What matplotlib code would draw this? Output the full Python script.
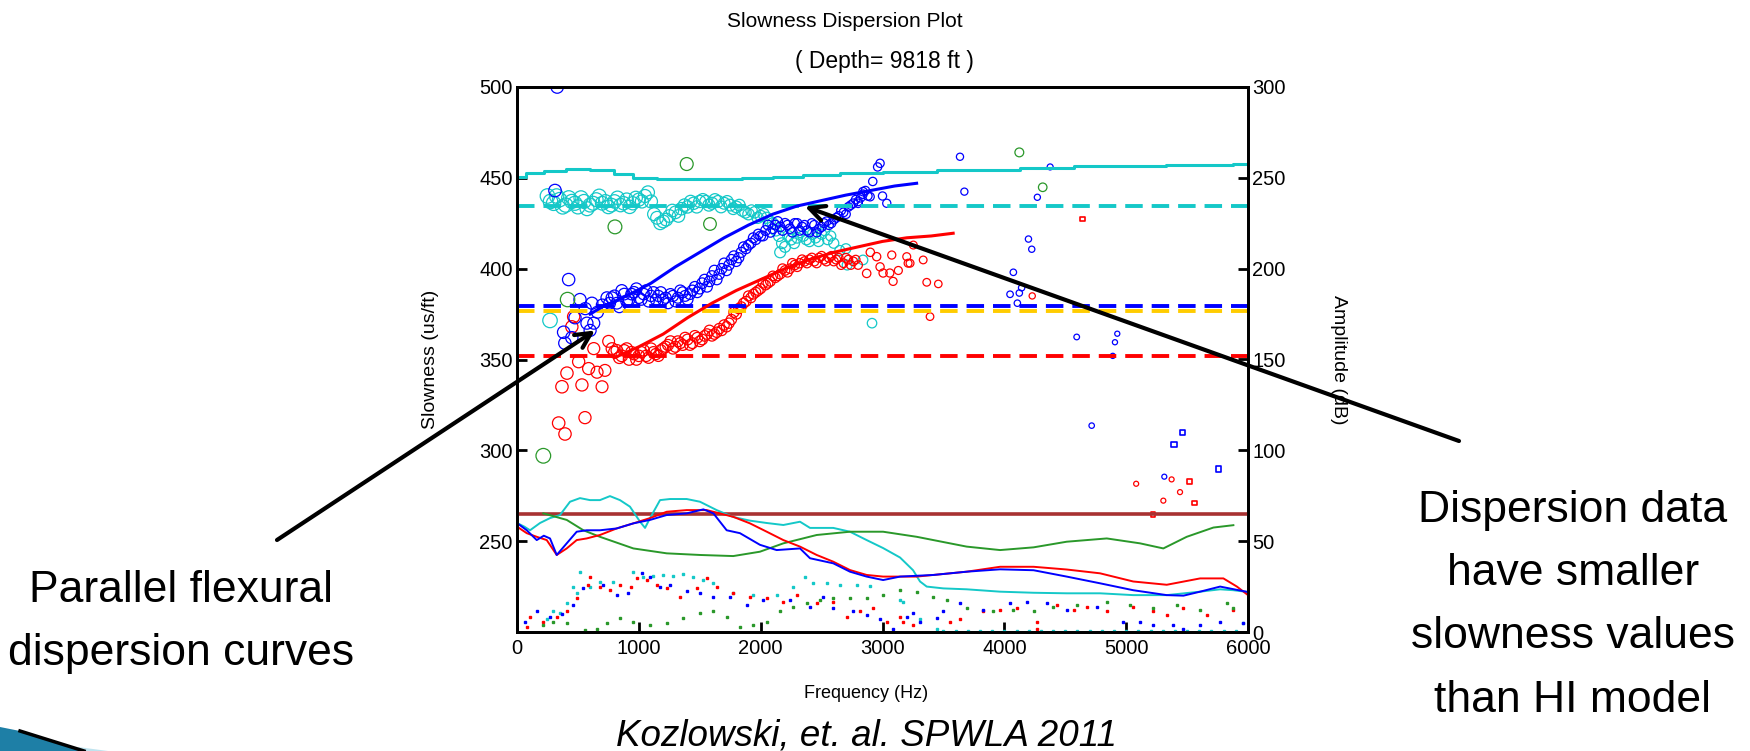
import matplotlib
matplotlib.use('Agg')
import matplotlib.pyplot as plt
from matplotlib import font_manager
from matplotlib.patches import Polygon
import numpy as np

plt.rcParams['font.family'] = ['Liberation Sans', 'DejaVu Sans']

W, H = 1750, 751

# ---- slowness axis (left, us/ft) ----
# formation / HI model reference lines
cyan_line_f = [0, 150, 300, 500, 700, 900, 1000, 1300, 1700, 2000, 2200, 2500, 2800,
               3200, 3700, 4000, 4250, 4900, 5750, 6000]
cyan_line_s = [450.5, 452.5, 454, 455, 454.5, 452, 450, 449.5, 449.5, 450, 450.5, 451.5,
               452.5, 453.3, 454.3, 454.5, 455.5, 456.3, 457.3, 457.5]
cyan_dash = 434.6
blue_dash = 379.4
gold_dash = 376.5
red_dash = 352.1

blue_model_f = [600, 700, 900, 1100, 1300, 1500, 1700, 1900, 2100, 2300, 2500, 2700, 2900, 3100, 3280]
blue_model_s = [375, 379, 385, 392, 401, 409, 417, 424, 430, 434.5, 437.5, 440.5, 443, 445.5, 447]
red_model_f = [800, 1000, 1200, 1400, 1600, 1800, 2000, 2200, 2400, 2600, 2800, 3000, 3200, 3400, 3580]
red_model_s = [351, 357, 364, 373, 381, 388, 394, 400, 405, 409, 412, 415, 417, 418, 419.5]

# dispersion data (circles)
blue_f = [312, 330, 383, 393, 424, 450, 476, 517, 560, 574, 600, 615, 630, 660, 700, 738,
          760, 800, 840, 880, 920, 960, 1000, 1040, 1080, 1120, 1160, 1200, 1240, 1280, 1320,
          1360, 1400, 1440, 1480, 1520, 1560, 1600, 1640, 1680, 1720, 1760, 1800, 1840, 1880,
          1920, 1960, 2000, 2040, 2080, 2120, 2160, 2200, 2240, 2280, 2320, 2360, 2400, 2440,
          2480, 2520, 2560, 2600, 2640, 2680, 2720, 2760, 2800, 2840, 2880, 2920, 2960, 2980,
          3000, 3035, 2898, 2840, 2800,
          3636, 3672, 4047, 4074, 4107, 4123, 4142, 4198, 4225, 4271, 4376, 4594, 4717, 4890,
          4908, 4927, 5313]
blue_s = [443, 500, 365, 359, 394, 362, 373, 383, 378, 370, 366, 381, 370, 376, 380, 384,
          381, 385, 379, 386, 383, 387, 384, 386, 382, 387, 385, 383, 381, 385, 384,
          387, 383, 388, 387, 392, 390, 396, 394, 400, 399, 405, 404, 409, 411,
          414, 416, 418, 421, 420, 424, 423, 425, 422, 425, 421, 424, 420, 424,
          422, 425, 424, 427, 429, 431, 434, 436, 437, 441, 440, 448, 456, 458,
          440, 436, 439.6, 442.4, 436,
          461.6, 442.4, 385.9, 398, 381, 386.6, 389.5, 416.3, 410.7, 439.3, 456, 362.4, 313.6,
          352, 359.5, 364.2, 285.5]
# second row of the blue band (offset frequencies)
blue_f2 = [780, 820, 860, 900, 940, 980, 1020, 1060, 1100, 1140, 1180, 1220, 1260, 1300, 1340,
           1380, 1420, 1460, 1500, 1540, 1580, 1620, 1660, 1700, 1740, 1780, 1820, 1860, 1900,
           1940, 1980, 2020, 2060, 2100, 2140, 2180, 2220, 2260, 2300, 2340, 2380, 2420, 2460,
           2500, 2540, 2580, 2620, 2660, 2700, 2740, 2780, 2820, 2860]
blue_s2 = [384, 381, 388, 382, 386, 389, 383, 388, 385, 383, 387, 384, 386, 382, 388,
           385, 386, 390, 389, 394, 393, 399, 397, 403, 402, 407, 406, 412, 413,
           417, 419, 418, 424, 422, 426, 421, 424, 420, 425, 423, 421, 425, 420,
           423, 426, 425, 428, 432, 430, 435, 438, 439, 443]
blue_sq_f = [5393, 5464, 5760]
blue_sq_s = [303, 310, 289.7]

red_f = [342, 369, 394, 410, 450, 465, 506, 533, 558, 588, 630, 657, 698, 722, 752, 780,
         800, 840, 880, 920, 960, 1000, 1040, 1080, 1120, 1160, 1200, 1240, 1280, 1320, 1360,
         1400, 1440, 1480, 1520, 1560, 1600, 1640, 1680, 1720, 1760, 1800, 1840, 1880, 1920,
         1960, 2000, 2040, 2080, 2120, 2160, 2200, 2240, 2280, 2320, 2360, 2400, 2440, 2480,
         2520, 2560, 2600, 2640, 2680, 2720, 2760, 2800,
         2870, 2900, 2952, 2980, 3005, 3060, 3076, 3087, 3130, 3199, 3210, 3226, 3253, 3334,
         3363, 3390, 3458, 4229, 5082, 5305, 5373, 5442]
red_s = [315, 335, 309, 342.5, 368, 373.6, 348.8, 336, 318, 345, 356, 343, 335, 344, 360, 356,
         354, 351, 355, 350, 353, 352, 355, 351, 354, 352, 356, 358, 356, 360, 358,
         361, 359, 362, 361, 364, 363, 365, 366, 368, 372, 375, 379, 382, 384,
         387, 389, 391, 393, 395, 397, 399, 400, 402, 403, 404, 405, 404, 406,
         405, 406, 404, 406, 403, 405, 404, 402,
         397.4, 409, 406.6, 401, 397.6, 397.6, 407.5, 393, 399, 406.6, 403, 403, 413, 404.8,
         392.5, 373.6, 391.6, 385, 281.6, 272.3, 284, 277]
red_f2 = [820, 860, 900, 940, 980, 1020, 1060, 1100, 1140, 1180, 1220, 1260, 1300, 1340, 1380,
          1420, 1460, 1500, 1540, 1580, 1620, 1660, 1700, 1740, 1780, 1820, 1860, 1900, 1940,
          1980, 2020, 2060, 2100, 2140, 2180, 2220, 2260, 2300, 2340, 2380, 2420, 2460, 2500,
          2540, 2580, 2620, 2660, 2700, 2740, 2780]
red_s2 = [355, 352, 356, 354, 350, 354, 352, 356, 353, 355, 357, 360, 357, 359, 362,
          358, 363, 360, 363, 366, 364, 367, 369, 370, 376, 378, 381, 385, 386,
          388, 392, 392, 396, 396, 400, 398, 403, 401, 405, 403, 406, 403, 407,
          404, 407, 405, 402, 406, 402, 405]
red_sq_f = [4643, 5518, 5563, 5220]
red_sq_s = [427.3, 283, 271, 264.6]

cyan_f = [250, 271, 300, 350, 400, 450, 500, 550, 600, 650, 700, 750, 800, 850, 900, 950,
          1000, 1050, 1100, 1150, 1200, 1250, 1300, 1350, 1400, 1450, 1500, 1550, 1600, 1650,
          1700, 1750, 1800, 1850, 1900, 1950, 2000, 2050, 2100, 2150, 2160, 2200, 2250, 2300,
          2350, 2400, 2450, 2500, 2550, 2600, 2650, 2700, 2710, 2840, 2914]
cyan_s = [440, 371.5, 436, 438, 435, 437, 434, 437, 435, 438, 436, 434, 437, 435, 438, 436,
          438, 440, 437, 428, 426, 429, 431, 433, 434, 436, 437, 437, 436, 437,
          436, 435, 434, 432, 430, 431, 429, 428, 425, 418, 409, 412, 416, 417,
          418, 415, 417, 419, 416, 414, 410, 411, 402, 404.8, 370]
cyan_f2 = [275, 325, 375, 425, 475, 525, 575, 625, 675, 725, 775, 825, 875, 925, 975, 1025,
           1075, 1125, 1175, 1225, 1275, 1325, 1375, 1425, 1475, 1525, 1575, 1625, 1675, 1725,
           1775, 1825, 1875, 1925, 1975, 2025, 2075, 2125, 2175, 2225, 2275, 2325, 2375, 2425,
           2475, 2525, 2575]
cyan_s2 = [437, 440, 434, 439, 436, 439, 433, 436, 440, 437, 435, 439, 436, 434, 439, 437,
           442, 430, 425, 427, 432, 429, 435, 437, 434, 438, 435, 438, 434, 437,
           433, 435, 431, 432, 428, 430, 426, 421, 414, 418, 414, 420, 416, 419,
           415, 421, 418]

green_f = [216, 415, 804, 1393, 1584, 4123, 4315]
green_s = [297, 383, 423, 457.6, 424.6, 464, 444.8]

# ---- amplitude axis (right, dB) ----
hline_amp = 65

cyan_amp_f = [0, 60, 107, 189, 271, 353, 435, 517, 599, 681, 763, 845, 927, 1010, 1051, 1092,
              1174, 1256, 1393, 1502, 1639, 1775, 1912, 2050, 2186, 2323, 2405, 2596, 2733,
              2870, 3005, 3144, 3251, 3308, 3363, 3500, 3691, 3965, 4240, 4512, 4786, 5058,
              5333, 5607, 5771, 5880, 6000]
cyan_amp = [60, 58, 56, 60, 62.7, 64.4, 71.7, 73.7, 72.6, 72.6, 74.8, 72.6, 69, 60.7, 57.3, 62.7,
            72.6, 73.2, 73.2, 71.7, 67.1, 63.3, 61.3, 60, 58.9, 60.7, 57.3, 57.3, 55.2,
            50.6, 46.2, 41, 34, 27.8, 25, 24, 23.5, 22.2, 21.6, 21.3, 21.3, 20.3,
            20.3, 22.2, 23.5, 23, 22]

red_amp_f = [0, 80, 162, 244, 326, 408, 490, 572, 681, 818, 955, 1092, 1229, 1393, 1557, 1775,
             1912, 2050, 2186, 2323, 2460, 2596, 2733, 2870, 3005, 3281, 3418, 3691, 3965,
             4240, 4512, 4786, 5058, 5333, 5607, 5798, 5909, 6000]
red_amp = [58, 54.4, 52.4, 50.6, 42.4, 46, 50.6, 51.5, 53.4, 57, 59.8, 62.7, 66.2, 67.1, 67.1, 63.4,
           59.8, 55.2, 50.6, 47, 42.4, 38.7, 34.1, 31.4, 30.5, 30.5, 31.4, 33.2, 35.9,
           35.9, 34.4, 32.3, 27.8, 26, 29.5, 29.5, 25, 20.3]

blue_amp_f = [0, 80, 162, 220, 271, 326, 408, 490, 572, 681, 818, 955, 1092, 1229, 1393, 1530,
              1612, 1721, 1830, 1994, 2131, 2323, 2405, 2596, 2733, 2870, 3005, 3144, 3418,
              3691, 3965, 4240, 4512, 4786, 5058, 5333, 5470, 5607, 5771, 6000]
blue_amp = [60, 56, 50.6, 53, 51.5, 42.4, 48.8, 55.2, 56, 56, 57, 59.8, 61.7, 64.4, 65.3, 67.5,
            65.3, 56, 54.4, 48, 45.1, 46, 40.6, 37.8, 33.2, 30.5, 28.6, 30.5, 31.4,
            33.2, 34.5, 34, 30.5, 26.8, 23, 20.3, 20, 22.2, 25, 22]

green_amp_f = [216, 408, 545, 681, 955, 1229, 1502, 1775, 1994, 2186, 2460, 2733, 3005, 3281,
               3554, 3691, 3965, 4240, 4512, 4841, 5114, 5305, 5497, 5716, 5880]
green_amp = [65.3, 61.7, 56, 52.4, 46, 43.3, 42.4, 41.8, 44.2, 48.8, 53.4, 55.2, 55.2, 52.4,
             48.8, 47, 45.1, 46.6, 49.7, 51.5, 48.8, 46, 52.4, 57.5, 58.8]

# dotted amplitude points
cyan_dot_f = [244, 298, 353, 408, 462, 490, 517, 599, 681, 790, 955, 1037, 1120, 1202, 1284,
              1366, 1448, 1530, 1612, 1775, 1940, 2131, 2268, 2364, 2432, 2542, 2650, 2788,
              2897, 3144, 3171, 3308, 3445, 5962,
              3500, 3600, 3700, 3800, 3900, 4000, 4100, 4200, 4300, 4400, 4500, 4600, 4700,
              4800, 4900, 5000, 5100, 5200, 5300, 5400, 5500, 5600, 5700, 5800, 5900]
cyan_dot_a = [7, 11.5, 10.5, 16, 25, 21.5, 33, 25, 27.7, 27.7, 33, 30.4, 31, 31.5, 31,
              32, 30.4, 28.6, 26.8, 21.5, 20.5, 20.5, 25, 30.4, 26.8, 26.8, 26, 26,
              25.4, 17.6, 16.7, 7, 1.6, 5,
              0.4, 0.4, 0.4, 0.4, 0.4, 0.4, 0.4, 0.4, 0.4, 0.4, 0.4, 0.4, 0.4,
              0.4, 0.4, 0.4, 0.4, 0.4, 0.4, 0.4, 0.4, 0.4, 0.4, 0.4, 0.4]

red_dot_f = [80, 107, 216, 326, 408, 490, 585, 599, 681, 763, 845, 938, 982, 1064, 1147, 1229,
             1338, 1475, 1557, 1639, 1775, 1912, 2050, 2186, 2295, 2460, 2596, 2706, 2815,
             2924, 3033, 3144, 3171, 3253, 3554, 3636, 3828, 3965, 4102, 4266, 4266, 4431,
             4568, 4677, 4841, 5058, 5222, 5333, 5470, 5661, 5880]
red_dot_a = [3, 8.5, 5.7, 8.5, 11.3, 18.5, 26, 30.4, 25, 23, 26, 25, 29.5, 28.6, 26, 24.3,
             19.4, 24.3, 29.5, 25, 21.5, 19.4, 18.5, 16.7, 20.5, 15.8, 16.7, 8.5, 11.3,
             13, 5.7, 8.5, 5.3, 3.9, 5.3, 7, 11.3, 12, 13, 5.3, 1.6, 14.9,
             12, 13.7, 11.3, 13.7, 11.3, 9.4, 13, 9.4, 12]

blue_dot_f = [66, 162, 271, 367, 462, 544, 708, 818, 913, 1023, 1092, 1174, 1256, 1393, 1502,
              1612, 1748, 1885, 2022, 2240, 2405, 2514, 2596, 2760, 2870, 2979, 3088, 3198,
              3253, 3308, 3445, 3500, 3636, 3828, 4047, 4184, 4349, 4512, 4758, 4977, 5114,
              5222, 5387, 5470, 5607, 5771, 5962]
blue_dot_a = [5.7, 11.3, 8.5, 10, 14.9, 24.3, 26, 20.5, 21.5, 32.3, 30.4, 25, 26, 22.4, 21.5,
              19.4, 19.4, 14.9, 17.6, 17.6, 13.9, 19.4, 13, 11.3, 9.4, 7, 1.6, 8.5,
              10.5, 5.7, 7.5, 11.3, 15.8, 12, 15.8, 16.7, 15.8, 12, 13.7, 5.7, 5.7,
              3.9, 3.9, 1.5, 3.9, 5.7, 4.8]

green_dot_f = [216, 298, 408, 560, 654, 736, 845, 955, 1092, 1229, 1366, 1502, 1612, 1721,
               1830, 1940, 2050, 2159, 2268, 2377, 2487, 2596, 2733, 2870, 3005, 3144, 3281,
               3418, 3527, 3691, 3910, 4074, 4240, 4403, 4595, 4841, 5031, 5222, 5414, 5607,
               5826, 5880]
green_dot_a = [3.9, 5.7, 4.8, 1, 1.5, 4.8, 7.5, 5.7, 3.9, 4.8, 7.5, 10.7, 11.3, 8.5,
               3, 3.9, 5.7, 11.3, 14, 15.8, 17.6, 18.5, 18.5, 18.5, 20.3, 23, 22,
               19.4, 17.6, 13, 11.3, 12, 11.3, 13.9, 14.9, 16.7, 14.9, 13, 14.9, 12,
               15.8, 13]

BLUE = '#0000ff'
RED = '#ff0000'
CYAN = '#14c8c8'
GREEN = '#2a982a'
GOLD = '#ffcc00'
DARKRED = '#a83232'


def circle_area(freqs, big, slope, smallest):
    # marker diameter in pixels shrinks with frequency, returned as points^2
    d = np.maximum(smallest, big - slope * np.asarray(freqs) / 1000.0)
    return (d / 1.389) ** 2


fig = plt.figure(figsize=(17.5, 7.51), dpi=100)
ax = fig.add_axes([517 / W, 1 - 632 / H, 731 / W, 545 / H])
ax2 = ax.twinx()

ax.set_xlim(0, 6000)
ax.set_ylim(200, 500)
ax2.set_ylim(0, 300)

# slowness lines
ax.plot(cyan_line_f, cyan_line_s, color=CYAN, lw=2.2, drawstyle='steps-mid')
dash = dict(lw=2.8, dashes=(4.5, 2.3))
ax.axhline(cyan_dash, color=CYAN, **dash)
ax.axhline(blue_dash, color=BLUE, **dash)
ax.axhline(gold_dash, color=GOLD, **dash)
ax.axhline(red_dash, color=RED, **dash)
ax.plot(blue_model_f, blue_model_s, color=BLUE, lw=2.2)
ax.plot(red_model_f, red_model_s, color=RED, lw=2.2)

# dispersion circles
open_c = dict(facecolors='none', linewidths=0.9)
cf = cyan_f + cyan_f2
ax.scatter(cf, cyan_s + cyan_s2, s=circle_area(cf, 15, 1.9, 7), edgecolors=CYAN, **open_c)
rf = red_f + red_f2
ax.scatter(rf, red_s + red_s2, s=circle_area(rf, 13, 1.6, 5), edgecolors=RED, **open_c)
bf = blue_f + blue_f2
ax.scatter(bf, blue_s + blue_s2, s=circle_area(bf, 13, 1.6, 5), edgecolors=BLUE, **open_c)
ax.scatter(green_f, green_s, s=circle_area(green_f, 15, 1.5, 8), edgecolors=GREEN, **open_c)
ax.scatter(red_sq_f, red_sq_s, s=12, marker='s', facecolors='none', edgecolors=RED, linewidths=1.2)
ax.scatter(blue_sq_f, blue_sq_s, s=14, marker='s', facecolors='none', edgecolors=BLUE, linewidths=1.2)

# amplitude curves
ax2.axhline(hline_amp, color=DARKRED, lw=2.6)
ax2.plot(cyan_amp_f, cyan_amp, color=CYAN, lw=1.4)
ax2.plot(green_amp_f, green_amp, color=GREEN, lw=1.4)
ax2.plot(red_amp_f, red_amp, color=RED, lw=1.4)
ax2.plot(blue_amp_f, blue_amp, color=BLUE, lw=1.4)
for fx_, ay_, c in [(cyan_dot_f, cyan_dot_a, CYAN), (red_dot_f, red_dot_a, RED),
                    (blue_dot_f, blue_dot_a, BLUE), (green_dot_f, green_dot_a, GREEN)]:
    ax2.plot(fx_, ay_, ls='none', marker='s', ms=1.5, mec=c, mfc=c)

# axes styling
ax.set_xticks([0, 1000, 2000, 3000, 4000, 5000, 6000])
ax.set_yticks([250, 300, 350, 400, 450, 500])
ax2.set_yticks([0, 50, 100, 150, 200, 250, 300])
for a in (ax, ax2):
    for sp in a.spines.values():
        sp.set_linewidth(2.0)
    a.tick_params(direction='in', length=7, width=2, labelsize=14.5, pad=3)
ax.tick_params(axis='x', pad=5)

ax.set_ylabel('Slowness (us/ft)', fontsize=14)
ax.yaxis.set_label_coords((439 - 517) / 731, 0.5)
ax2.set_ylabel('Amplitude (dB)', fontsize=14, rotation=270, va='center')
ax2.yaxis.set_label_coords((1339 - 517) / 731, 0.5)

fig.text(845 / W, 1 - 27 / H, 'Slowness Dispersion Plot', fontsize=15, ha='center', va='baseline')
fig.text(884 / W, 1 - 68 / H, '( Depth= 9818 ft )', fontsize=16.5, ha='center', va='baseline')
fig.text(866 / W, 1 - 698 / H, 'Frequency (Hz)', fontsize=13, ha='center', va='baseline')
fig.text(866 / W, 1 - 745 / H, 'Kozlowski, et. al. SPWLA 2011', fontsize=26.5, style='italic',
         ha='center', va='baseline')

# callout texts
names = {f.name for f in font_manager.fontManager.ttflist}
if 'Liberation Sans Narrow' in names:
    big_font, big_size = 'Liberation Sans Narrow', 37
else:
    big_font, big_size = 'Liberation Sans', 32
left_lines = [('Parallel flexural', 602), ('dispersion curves', 665)]
for txt, base in left_lines:
    fig.text(181 / W, 1 - base / H, txt, fontsize=big_size, family=big_font,
             ha='center', va='baseline')
right_lines = [('Dispersion data', 522), ('have smaller', 585),
               ('slowness values', 648), ('than HI model', 712)]
for txt, base in right_lines:
    fig.text(1573 / W, 1 - base / H, txt, fontsize=big_size, family=big_font,
             ha='center', va='baseline')

# arrows from callouts into the plot
arrow = dict(arrowstyle='->,head_length=1.1,head_width=0.55', color='black', lw=3,
             shrinkA=0, shrinkB=0)
ax2.annotate('', xy=(640, 366), xycoords=ax.transData,
             xytext=(277 / W, 1 - 540 / H), textcoords='figure fraction', arrowprops=arrow)
ax2.annotate('', xy=(2363, 434.2), xycoords=ax.transData,
             xytext=(1459 / W, 1 - 441 / H), textcoords='figure fraction', arrowprops=arrow)

# slide corner decoration
corner = Polygon([(0, 1 - 727 / H), (20 / W, 1 - 731 / H), (85 / W, 0), (0, 0)],
                 closed=True, transform=fig.transFigure, facecolor='#1e7fa6', edgecolor='none')
fig.patches.append(corner)
glow = Polygon([(78 / W, 1 - 747 / H), (108 / W, 0), (80 / W, 0)],
               closed=True, transform=fig.transFigure, facecolor='#bfe3ee', edgecolor='none')
fig.patches.append(glow)
fig.add_artist(plt.Line2D([20 / W, 84 / W], [1 - 731 / H, 1 - 751 / H], color='black', lw=2.5,
                          transform=fig.transFigure))

fig.savefig('out.png', dpi=100)
